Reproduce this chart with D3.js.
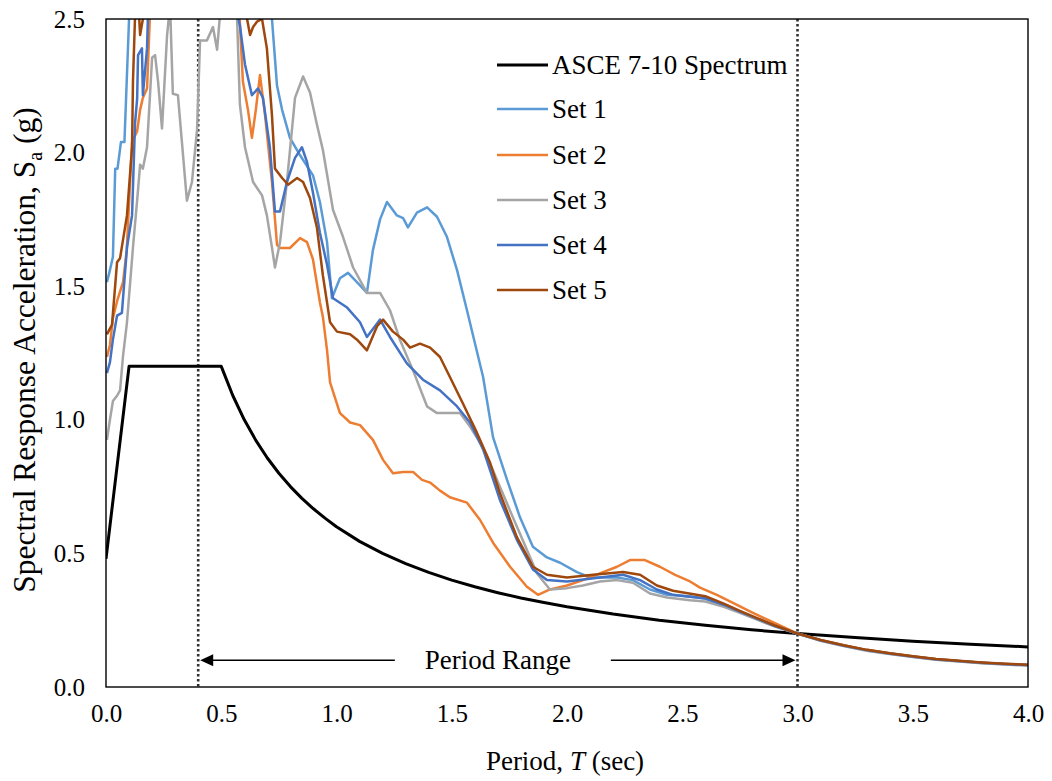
<!DOCTYPE html>
<html><head><meta charset="utf-8">
<script src="https://cdn.jsdelivr.net/npm/d3@7"></script>
<style>
html,body{margin:0;padding:0;background:#fff;}
svg text{font-family:"Liberation Serif","Times New Roman",serif;fill:#000;}
</style></head>
<body><svg id="c" width="1052" height="781"></svg>
<script>
// ---------- data ----------
const xTicks = [0,0.5,1.0,1.5,2.0,2.5,3.0,3.5,4.0];
const yTicks = [0,0.5,1.0,1.5,2.0,2.5];
const seriesNames = ["ASCE 7-10 Spectrum","Set 1","Set 2","Set 3","Set 4","Set 5"];
const seriesColors = ["#000000","#5B9BD5","#ED7D31","#A5A5A5","#4472C4","#9E480E"];
const periodRange = [0.4, 3.0];

const asce = [[0,0.48],[0.1,1.2],[0.5,1.2],[0.55,1.091],[0.6,1.0],[0.65,0.923],[0.7,0.857],[0.75,0.8],[0.8,0.75],[0.85,0.706],[0.9,0.667],[0.95,0.632],[1.0,0.6],[1.1,0.545],[1.2,0.5],[1.3,0.462],[1.4,0.429],[1.5,0.4],[1.6,0.375],[1.7,0.353],[1.8,0.333],[1.9,0.316],[2.0,0.3],[2.2,0.273],[2.4,0.25],[2.6,0.231],[2.8,0.214],[3.0,0.2],[3.25,0.185],[3.5,0.171],[3.75,0.16],[4.0,0.15]];

const set1 = [[0.004,1.515],[0.017,1.56],[0.03,1.61],[0.04,1.94],[0.05,1.94],[0.065,2.04],[0.08,2.04],[0.09,2.27],[0.10,2.5],[0.2,2.9],[0.4,3.1],[0.6,2.9],[0.72,2.5],[0.742,2.25],[0.764,2.16],[0.798,2.055],[0.842,1.99],[0.898,1.915],[0.928,1.815],[0.959,1.665],[0.98,1.455],[1.015,1.53],[1.05,1.55],[1.10,1.505],[1.132,1.475],[1.158,1.635],[1.189,1.75],[1.219,1.815],[1.262,1.765],[1.289,1.755],[1.31,1.72],[1.349,1.775],[1.393,1.795],[1.436,1.76],[1.479,1.685],[1.523,1.56],[1.566,1.41],[1.636,1.16],[1.679,0.935],[1.74,0.775],[1.796,0.635],[1.852,0.525],[1.913,0.485],[1.97,0.465],[2.043,0.43],[2.10,0.41],[2.217,0.41],[2.286,0.40],[2.36,0.365],[2.434,0.345],[2.53,0.34],[2.6,0.33],[2.68,0.305],[2.75,0.28],[2.83,0.252],[2.9,0.228],[3.0,0.2],[3.1,0.174],[3.2,0.154],[3.3,0.137],[3.4,0.124],[3.5,0.113],[3.6,0.103],[3.7,0.096],[3.8,0.09],[3.9,0.085],[4.0,0.081]];

const set2 = [[0.004,1.235],[0.017,1.28],[0.03,1.38],[0.05,1.45],[0.074,1.515],[0.09,1.635],[0.105,1.9],[0.113,2.04],[0.135,2.08],[0.148,2.16],[0.16,2.205],[0.178,2.24],[0.19,2.5],[0.3,2.9],[0.45,3.0],[0.58,2.5],[0.594,2.265],[0.616,2.16],[0.633,2.055],[0.65,2.16],[0.668,2.29],[0.69,2.14],[0.72,1.89],[0.742,1.655],[0.755,1.643],[0.798,1.643],[0.842,1.68],[0.872,1.665],[0.898,1.6],[0.928,1.44],[0.941,1.385],[0.959,1.26],[0.972,1.14],[1.015,1.025],[1.059,0.99],[1.102,0.98],[1.158,0.925],[1.202,0.85],[1.245,0.80],[1.289,0.805],[1.332,0.805],[1.371,0.775],[1.406,0.765],[1.449,0.735],[1.492,0.71],[1.566,0.69],[1.623,0.625],[1.679,0.54],[1.753,0.45],[1.826,0.375],[1.874,0.345],[1.926,0.365],[2.0,0.38],[2.069,0.40],[2.143,0.425],[2.217,0.45],[2.273,0.475],[2.338,0.475],[2.403,0.45],[2.469,0.42],[2.534,0.395],[2.577,0.372],[2.65,0.345],[2.72,0.315],[2.8,0.28],[2.9,0.24],[3.0,0.2],[3.1,0.176],[3.2,0.156],[3.3,0.139],[3.4,0.126],[3.5,0.115],[3.6,0.105],[3.7,0.097],[3.8,0.091],[3.9,0.086],[4.0,0.082]];

const set3 = [[0.004,0.925],[0.017,1.0],[0.03,1.07],[0.048,1.09],[0.061,1.11],[0.074,1.24],[0.091,1.365],[0.117,1.645],[0.135,1.82],[0.148,1.955],[0.16,1.94],[0.178,2.02],[0.2,2.355],[0.213,2.365],[0.226,2.265],[0.243,2.09],[0.265,2.44],[0.278,2.55],[0.29,2.22],[0.312,2.215],[0.351,1.82],[0.373,1.89],[0.395,2.085],[0.408,2.42],[0.438,2.42],[0.464,2.47],[0.482,2.385],[0.495,2.52],[0.53,2.8],[0.568,2.52],[0.581,2.18],[0.603,2.02],[0.638,1.89],[0.677,1.84],[0.698,1.765],[0.72,1.645],[0.733,1.57],[0.755,1.665],[0.785,1.89],[0.82,2.205],[0.855,2.285],[0.885,2.225],[0.915,2.105],[0.941,2.01],[0.985,1.785],[1.028,1.685],[1.072,1.57],[1.132,1.475],[1.189,1.475],[1.232,1.41],[1.275,1.30],[1.332,1.185],[1.393,1.05],[1.436,1.025],[1.536,1.025],[1.579,0.975],[1.623,0.915],[1.679,0.81],[1.753,0.66],[1.818,0.53],[1.87,0.425],[1.926,0.365],[2.0,0.37],[2.069,0.38],[2.143,0.395],[2.217,0.40],[2.286,0.39],[2.36,0.35],[2.434,0.335],[2.534,0.325],[2.6,0.32],[2.68,0.3],[2.75,0.278],[2.83,0.25],[2.9,0.227],[3.0,0.2],[3.1,0.173],[3.2,0.153],[3.3,0.136],[3.4,0.123],[3.5,0.112],[3.6,0.102],[3.7,0.095],[3.8,0.089],[3.9,0.084],[4.0,0.08]];

const set4 = [[0.004,1.175],[0.017,1.215],[0.03,1.30],[0.048,1.39],[0.069,1.40],[0.091,1.645],[0.113,1.765],[0.126,2.11],[0.135,2.2],[0.139,2.365],[0.156,2.39],[0.16,2.215],[0.178,2.39],[0.182,2.51],[0.3,2.9],[0.45,3.0],[0.581,2.475],[0.603,2.33],[0.633,2.215],[0.66,2.24],[0.681,2.205],[0.711,2.02],[0.733,1.78],[0.755,1.78],[0.785,1.89],[0.82,1.98],[0.85,2.02],[0.872,1.965],[0.898,1.85],[0.928,1.70],[0.959,1.58],[0.985,1.455],[1.046,1.42],[1.102,1.365],[1.132,1.31],[1.189,1.375],[1.232,1.31],[1.306,1.21],[1.375,1.15],[1.449,1.11],[1.523,1.05],[1.579,0.99],[1.636,0.89],[1.709,0.70],[1.783,0.55],[1.852,0.44],[1.913,0.40],[2.0,0.395],[2.143,0.41],[2.243,0.42],[2.317,0.40],[2.39,0.365],[2.46,0.345],[2.53,0.338],[2.6,0.332],[2.68,0.308],[2.75,0.282],[2.83,0.254],[2.9,0.229],[3.0,0.2],[3.1,0.175],[3.2,0.155],[3.3,0.138],[3.4,0.125],[3.5,0.114],[3.6,0.104],[3.7,0.097],[3.8,0.091],[3.9,0.086],[4.0,0.082]];

const set5 = [[0.004,1.32],[0.026,1.355],[0.048,1.59],[0.061,1.605],[0.091,1.765],[0.113,2.02],[0.117,2.265],[0.126,2.51],[0.138,2.6],[0.148,2.44],[0.16,2.5],[0.3,2.9],[0.45,3.0],[0.612,2.5],[0.625,2.44],[0.638,2.47],[0.655,2.49],[0.677,2.5],[0.698,2.39],[0.72,2.14],[0.733,1.94],[0.764,1.905],[0.79,1.88],[0.829,1.905],[0.855,1.89],[0.885,1.83],[0.915,1.72],[0.941,1.54],[0.972,1.365],[1.002,1.33],[1.059,1.32],[1.089,1.30],[1.132,1.26],[1.176,1.35],[1.202,1.375],[1.245,1.33],[1.289,1.30],[1.319,1.27],[1.362,1.285],[1.406,1.27],[1.449,1.235],[1.492,1.16],[1.549,1.06],[1.61,0.95],[1.666,0.84],[1.709,0.725],[1.783,0.56],[1.852,0.45],[1.913,0.42],[2.0,0.41],[2.113,0.42],[2.243,0.43],[2.317,0.42],[2.39,0.38],[2.46,0.36],[2.53,0.35],[2.6,0.34],[2.68,0.312],[2.75,0.285],[2.83,0.256],[2.9,0.231],[3.0,0.2],[3.1,0.176],[3.2,0.156],[3.3,0.139],[3.4,0.126],[3.5,0.115],[3.6,0.105],[3.7,0.098],[3.8,0.092],[3.9,0.087],[4.0,0.083]];

const seriesData = [asce, set1, set2, set3, set4, set5];

// ---------- layout ----------
const L = 106, R = 1028, T = 19, B = 687;
const svg = d3.select("#c");
const x = d3.scaleLinear().domain([0,4]).range([L,R]);
const y = d3.scaleLinear().domain([0,2.5]).range([B,T]);

svg.append("defs").append("clipPath").attr("id","plot")
  .append("rect").attr("x",L).attr("y",T).attr("width",R-L).attr("height",B-T);

// period range dotted lines
svg.selectAll("line.pr").data(periodRange).enter().append("line")
  .attr("x1",d=>x(d)).attr("x2",d=>x(d)).attr("y1",T).attr("y2",B)
  .attr("stroke","#333").attr("stroke-width",2.6).attr("stroke-dasharray","2.5,2.5");

// series lines
const line = d3.line().x(d=>x(d[0])).y(d=>y(d[1]));
const g = svg.append("g").attr("clip-path","url(#plot)");
seriesData.forEach((s,i)=>{
  g.append("path").datum(s).attr("d",line).attr("fill","none")
   .attr("stroke",seriesColors[i]).attr("stroke-width", i===0?3:2.5)
   .attr("stroke-linejoin","round");
});

// frame
svg.append("rect").attr("x",L).attr("y",T).attr("width",R-L).attr("height",B-T)
  .attr("fill","none").attr("stroke","#000").attr("stroke-width",1.4);

// axes (labels only)
const xAxis = d3.axisBottom(x).tickValues(xTicks).tickFormat(d3.format(".1f")).tickSize(0).tickPadding(17);
const xa = svg.append("g").attr("transform",`translate(0,${B})`).call(xAxis);
xa.select(".domain").remove();
xa.selectAll("text").style("font-size","25px").style("font-family","Liberation Serif");
const yAxis = d3.axisLeft(y).tickValues(yTicks).tickFormat(d3.format(".1f")).tickSize(0).tickPadding(21);
const ya = svg.append("g").attr("transform",`translate(${L},0)`).call(yAxis);
ya.select(".domain").remove();
ya.selectAll("text").style("font-size","25px").style("font-family","Liberation Serif");

// axis titles
svg.append("text").attr("x",565).attr("y",770).attr("text-anchor","middle")
  .style("font-size","27px").html('Period, <tspan font-style="italic">T</tspan> (sec)');
const yt = svg.append("text").attr("transform","translate(35,350) rotate(-90)").attr("text-anchor","middle")
  .style("font-size","31.5px");
yt.append("tspan").text("Spectral Response Acceleration, S");
yt.append("tspan").attr("dy",7).style("font-size","20px").text("a");
yt.append("tspan").attr("dy",-7).text(" (g)");

// period range arrow
const ay = y(0.1);
const x0 = x(periodRange[0]), x1 = x(periodRange[1]), xm = (x0+x1)/2;
svg.append("line").attr("x1",x0+12).attr("x2",xm-103).attr("y1",ay).attr("y2",ay).attr("stroke","#000").attr("stroke-width",1.6);
svg.append("line").attr("x1",xm+113).attr("x2",x1-12).attr("y1",ay).attr("y2",ay).attr("stroke","#000").attr("stroke-width",1.6);
svg.append("path").attr("d",`M${x0+2},${ay} L${x0+15},${ay-6} L${x0+15},${ay+6} Z`).attr("fill","#000");
svg.append("path").attr("d",`M${x1-2},${ay} L${x1-15},${ay-6} L${x1-15},${ay+6} Z`).attr("fill","#000");
svg.append("text").attr("x",xm).attr("y",ay+9).attr("text-anchor","middle").style("font-size","27px").text("Period Range");

// legend
const lg = svg.append("g");
const rowY = [65,109,155,200,245,290];
seriesNames.forEach((n,i)=>{
  lg.append("line").attr("x1",497).attr("x2",548).attr("y1",rowY[i]).attr("y2",rowY[i])
    .attr("stroke",seriesColors[i]).attr("stroke-width",i===0?3:2.5);
  lg.append("text").attr("x",552).attr("y",rowY[i]+9).style("font-size","27px").text(n);
});
</script></body></html>
